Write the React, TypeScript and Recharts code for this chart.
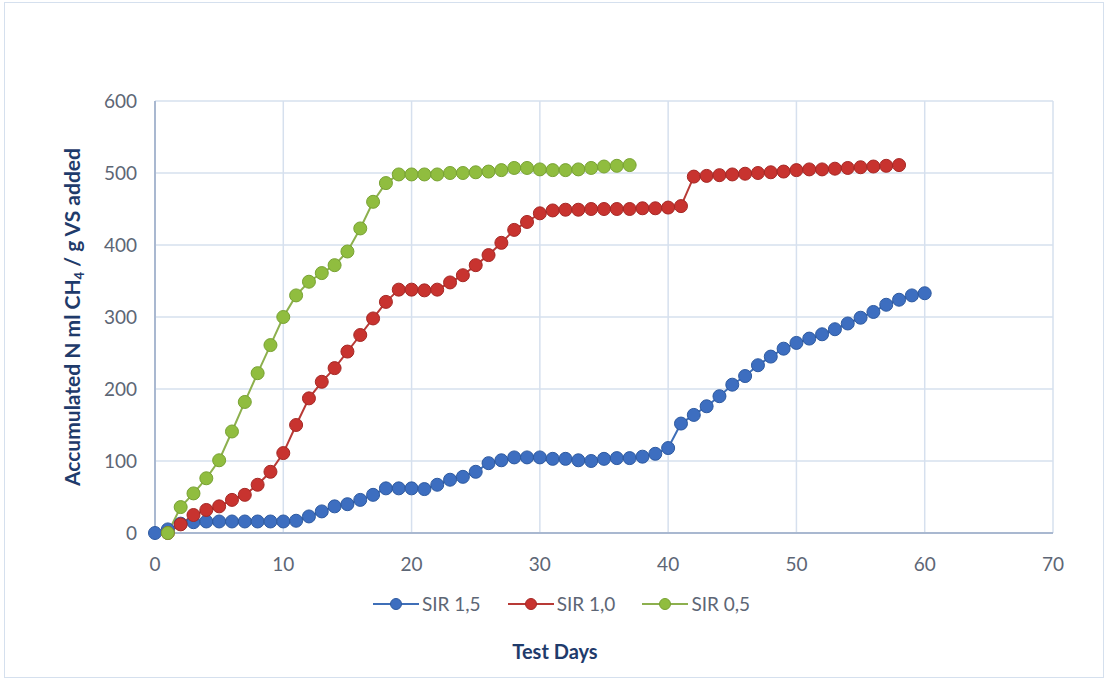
import React from 'react';
import { LineChart, Line, XAxis, YAxis, CartesianGrid, Legend } from 'recharts';

// test days 0..60
const days = [
  0, 1, 2, 3, 4, 5, 6, 7, 8, 9, 10, 11, 12, 13, 14, 15, 16, 17, 18, 19, 20,
  21, 22, 23, 24, 25, 26, 27, 28, 29, 30, 31, 32, 33, 34, 35, 36, 37, 38, 39, 40,
  41, 42, 43, 44, 45, 46, 47, 48, 49, 50, 51, 52, 53, 54, 55, 56, 57, 58, 59, 60,
];

// SIR 1,5 : days 0..60
const sir15 = [
  0, 5, 13, 15, 16, 16, 16, 16, 16, 16, 16, 17, 23, 30, 37, 40, 46, 53, 62, 62, 62,
  61, 67, 74, 78, 85, 97, 101, 105, 105, 105, 103, 103, 101, 100, 103, 104, 104, 106, 110, 118,
  152, 164, 176, 190, 206, 218, 233, 245, 256, 264, 270, 276, 283, 291, 299, 307, 317, 324, 330, 333,
];

// SIR 1,0 : days 1..58
const sir10 = [
  0, 12, 25, 32, 37, 46, 53, 67, 85, 111, 150, 187, 210, 229, 252, 275, 298, 321, 338, 338,
  337, 338, 348, 358, 372, 386, 403, 421, 432, 444, 448, 449, 449, 450, 450, 450, 450, 451, 451, 452,
  454, 495, 496, 497, 498, 499, 500, 501, 502, 504, 505, 505, 506, 507, 508, 509, 510, 511,
];

// SIR 0,5 : days 1..37
const sir05 = [
  0, 36, 55, 76, 101, 141, 182, 222, 261, 300, 330, 349, 361, 372, 391, 423, 460, 486, 498, 498,
  498, 498, 500, 500, 501, 502, 504, 507, 507, 505, 504, 504, 505, 507, 509, 510, 511,
];

const xTicks = [0, 10, 20, 30, 40, 50, 60, 70];
const yTicks = [0, 100, 200, 300, 400, 500, 600];

const data = days.map((day, i) => ({
  day,
  sir15: sir15[i],
  sir10: i >= 1 ? sir10[i - 1] : undefined,
  sir05: i >= 1 ? sir05[i - 1] : undefined,
}));

const FONT = 'Lato, "Open Sans", sans-serif';
const TICK = '#5d6675';
const TITLE = '#1f3b6b';
const GRID = '#d6e0ee';
const AXIS = '#a9b8d0';

const series = [
  { key: 'sir15', name: 'SIR 1,5', line: '#3f6fb8', fill: '#3d6ec0', stroke: '#2e5aa0' },
  { key: 'sir10', name: 'SIR 1,0', line: '#b83a36', fill: '#c8332f', stroke: '#a52825' },
  { key: 'sir05', name: 'SIR 0,5', line: '#8db04e', fill: '#90bd3f', stroke: '#78a233' },
];

const renderLegend = () => (
  <div style={{ display: 'flex', justifyContent: 'center', gap: 27, paddingLeft: 14, fontFamily: FONT }}>
    {series.map((s) => (
      <div key={s.key} style={{ display: 'flex', alignItems: 'center' }}>
        <svg width={46} height={14}>
          <line x1={0} y1={7} x2={46} y2={7} stroke={s.line} strokeWidth={2} />
          <circle cx={23} cy={7} r={5.5} fill={s.fill} stroke={s.stroke} />
        </svg>
        <span style={{ color: TICK, fontSize: 19, marginLeft: 3 }}>{s.name}</span>
      </div>
    ))}
  </div>
);

const YTitle = () => (
  <text
    x={0}
    y={0}
    transform="translate(80, 317) rotate(-90)"
    textAnchor="middle"
    fill={TITLE}
    fontFamily={FONT}
    fontWeight="bold"
    fontSize={21}
  >
    <tspan>Accumulated N ml CH</tspan>
    <tspan fontSize={13} dy={4}>4</tspan>
    <tspan dy={-4}> / g VS added</tspan>
  </text>
);

const XTitle = () => (
  <text x={555} y={659} textAnchor="middle" fill={TITLE} fontFamily={FONT} fontWeight="bold" fontSize={20}>
    Test Days
  </text>
);

export default function App() {
  return (
    <div style={{ position: 'fixed', left: 0, top: 0, width: 1109, height: 681, background: '#fff' }}>
      <div
        style={{
          position: 'absolute',
          left: 4,
          top: 2,
          width: 1100,
          height: 676,
          border: '1px solid #d5e0ee',
          boxSizing: 'border-box',
        }}
      />
      <LineChart
        width={1109}
        height={681}
        data={data}
        margin={{ top: 101, right: 56, bottom: 95, left: 95 }}
        style={{ position: 'absolute', left: 0, top: 0 }}
      >
        <CartesianGrid stroke={GRID} strokeWidth={1.5} />
        <XAxis
          dataKey="day"
          type="number"
          domain={[0, 70]}
          ticks={xTicks}
          tickSize={0}
          tickMargin={25}
          stroke={AXIS}
          strokeWidth={2}
          tick={{ fill: TICK, fontSize: 19, fontFamily: FONT }}
          label={<XTitle />}
        />
        <YAxis
          width={60}
          domain={[0, 600]}
          ticks={yTicks}
          tickSize={0}
          tickMargin={18}
          stroke={AXIS}
          strokeWidth={2}
          tick={{ fill: TICK, fontSize: 19, fontFamily: FONT }}
          label={<YTitle />}
        />
        <Legend content={renderLegend} wrapperStyle={{ left: 0, width: 1109, top: 592, bottom: 'auto' }} />
        {series.map((s) => (
          <Line
            key={s.key}
            dataKey={s.key}
            name={s.name}
            stroke={s.line}
            strokeWidth={2}
            dot={{ r: 6.5, fill: s.fill, stroke: s.stroke, strokeWidth: 1 }}
            activeDot={false}
            connectNulls
            isAnimationActive={false}
          />
        ))}
      </LineChart>
    </div>
  );
}
